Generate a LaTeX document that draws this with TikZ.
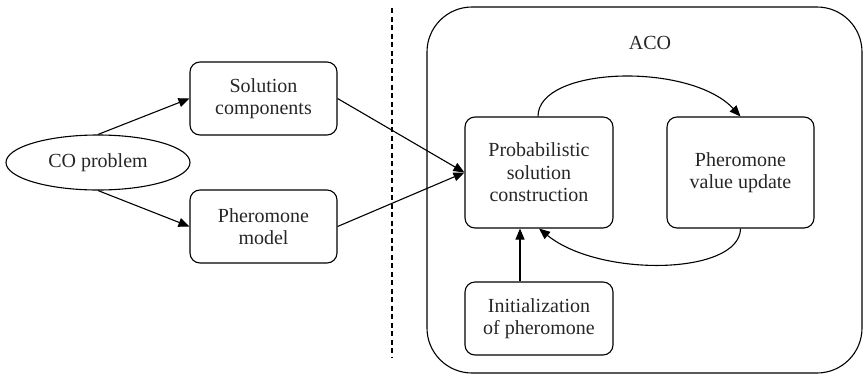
\documentclass[tikz,border=0pt]{standalone}
\usepackage{fontspec}
\setmainfont{Liberation Serif}
\usetikzlibrary{arrows.meta,shapes.geometric,calc}
\begin{document}
\begin{tikzpicture}[x=1pt,y=1pt,
  every node/.style={font=\fontsize{20}{22.5}\selectfont, align=center, inner sep=0pt, text=black!85},
  box/.style={draw, line width=1.1pt, rounded corners=10pt},
  arr/.style={-{Triangle[length=11pt,width=9pt]}, line width=1.1pt},
  ln/.style={line width=1.1pt}]
\useasboundingbox (0,0) rectangle (864,-375);
% outer ACO container
\node[box, rounded corners=45pt, minimum width=435pt, minimum height=366pt] (aco) at (644.5,-190) {};
\node (acolabel) at (650,-43) {ACO};
% dashed separator
\coordinate (dtop) at (392,-8);
\coordinate (dbot) at (392,-357);
\draw[ln, dash pattern=on 5pt off 3.5pt] (dtop) -- (dbot);
% nodes
\node[draw, ellipse, line width=1.1pt, minimum width=184pt, minimum height=55pt] (co) at (98,-162.5) {CO problem};
\node[box, minimum width=147pt, minimum height=73pt] (sol) at (263.5,-98.5) {Solution\\components};
\node[box, minimum width=147pt, minimum height=73pt] (pm) at (263.5,-226.5) {Pheromone\\model};
\node[box, minimum width=148pt, minimum height=111pt] (prob) at (539,-172.5) {Probabilistic\\solution\\construction};
\node[box, minimum width=147pt, minimum height=111pt] (pvu) at (740.5,-172.5) {Pheromone\\value update};
\node[box, minimum width=148pt, minimum height=73pt] (init) at (539,-318.5) {Initialization\\of pheromone};
% connectors
\draw[arr] (co.north) -- (sol.west);
\draw[arr] (co.south) -- (pm.west);
\draw[arr] (sol.east) -- (prob.west);
\draw[arr] (pm.east) -- (prob.west);
\draw[arr] ([xshift=-19pt]init.north) -- ([xshift=-19pt]prob.south);
\draw[arr] ([xshift=-1pt]prob.north) .. controls (538,-66) and (690,-62) .. (pvu.north);
\draw[arr] (pvu.south) .. controls (740,-275) and (600,-278) .. (prob.south);
\end{tikzpicture}
\end{document}
